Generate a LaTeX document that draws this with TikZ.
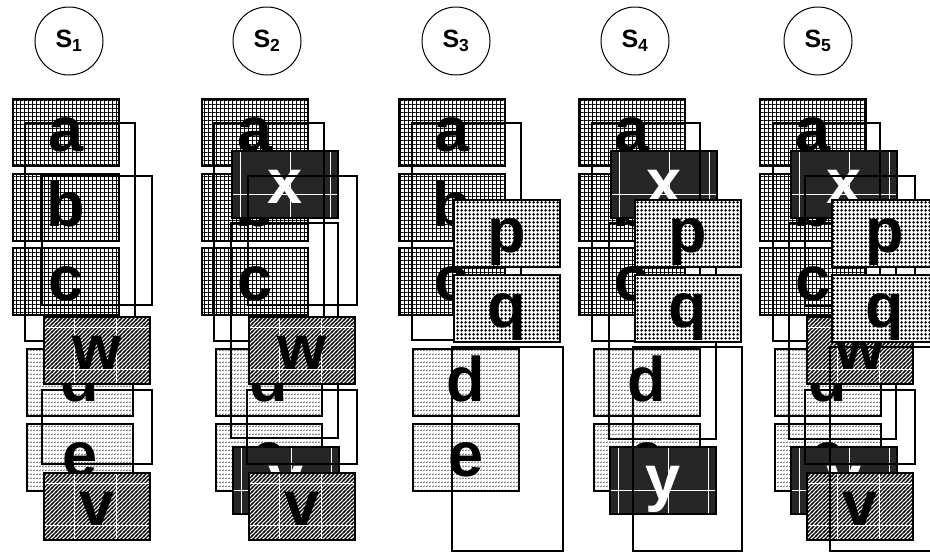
\documentclass[tikz,border=0pt]{standalone}
\usepackage{fontspec}
\setmainfont{Liberation Sans}
\usetikzlibrary{patterns}

\pgfdeclarepatternformonly{gridp}{\pgfqpoint{-0.5pt}{-0.5pt}}{\pgfqpoint{3.5pt}{3.5pt}}{\pgfqpoint{4pt}{4pt}}{%
 \pgfsetlinewidth{0.85pt}%
 \pgfpathmoveto{\pgfqpoint{0pt}{-0.5pt}}\pgfpathlineto{\pgfqpoint{0pt}{3.5pt}}%
 \pgfpathmoveto{\pgfqpoint{-0.5pt}{0pt}}\pgfpathlineto{\pgfqpoint{3.5pt}{0pt}}%
 \pgfusepath{stroke}}
\pgfdeclarepatternformonly{dotsp}{\pgfqpoint{0pt}{0pt}}{\pgfqpoint{4pt}{4pt}}{\pgfqpoint{4pt}{4pt}}{%
 \pgfpathcircle{\pgfqpoint{2pt}{2pt}}{1.75pt}\pgfusepath{fill}}
\pgfdeclarepatternformonly{diagp}{\pgfqpoint{-1pt}{-1pt}}{\pgfqpoint{5pt}{5pt}}{\pgfqpoint{4pt}{4pt}}{%
 \pgfsetlinewidth{1.1pt}%
 \pgfpathmoveto{\pgfqpoint{-1pt}{-1pt}}\pgfpathlineto{\pgfqpoint{5pt}{5pt}}\pgfusepath{stroke}}
\pgfdeclarepatternformonly{rowp}{\pgfqpoint{0pt}{0pt}}{\pgfqpoint{3pt}{4pt}}{\pgfqpoint{3pt}{4pt}}{%
 \pgfsetlinewidth{0.8pt}%
 \pgfpathmoveto{\pgfqpoint{0.3pt}{1.3pt}}\pgfpathlineto{\pgfqpoint{2.4pt}{2.7pt}}\pgfusepath{stroke}}

\tikzset{
 box/.style={draw, line width=2pt, preaction={fill=white}, minimum width=106pt,
   minimum height=67pt, inner sep=0pt, anchor=north west, text height=40pt,
   text depth=3pt, font=\fontsize{63}{63}\selectfont\bfseries},
 gbox/.style={box, pattern=gridp},
 lbox/.style={box, pattern=rowp, pattern color=black!75},
 hbox/.style={box, pattern=diagp, path picture={
   \foreach \u in {30,72}{\draw[white, line width=0.9pt]
     ([xshift=\u pt]path picture bounding box.north west) -- ++(0,-80pt);}
   \foreach \u in {10,52}{\draw[white, line width=0.9pt]
     ([yshift=-\u pt]path picture bounding box.north west) -- ++(120pt,0);}}},
 pbox/.style={box, pattern=dotsp},
 dbox/.style={box, fill=black!85, text=white, path picture={
   \foreach \u in {8,58,98}{\draw[white, line width=0.9pt]
     ([xshift=\u pt]path picture bounding box.north west) -- ++(0,-80pt);}
   \foreach \u in {43}{\draw[white, line width=0.9pt]
     ([yshift=-\u pt]path picture bounding box.north west) -- ++(120pt,0);}}},
 outl/.style={draw, line width=2pt},
 st/.style={circle, draw, line width=1pt, minimum size=68pt, inner sep=0pt,
   font=\fontsize{25}{25}\selectfont\bfseries}
}

\begin{document}
\begin{tikzpicture}[x=1pt, y=-1pt]
\useasboundingbox[fill=white] (0,0) rectangle (930,552);

% state circles
\node[st] (s1) at (69,41) {S\textsubscript{1}};
\node[st] (s2) at (267,41) {S\textsubscript{2}};
\node[st] (s3) at (456,41) {S\textsubscript{3}};
\node[st] (s4) at (635,41) {S\textsubscript{4}};
\node[st] (s5) at (818,41) {S\textsubscript{5}};

% ---------- column 1
\node[gbox] (a1) at (12,98) {a};
\node[gbox] (b1) at (12,173) {b};
\node[gbox] (c1) at (12,247) {c};
\node[lbox] (d1) at (26,348) {d};
\node[lbox] (e1) at (26,423) {e};
\draw[outl] (25,123) rectangle (135,341);
\draw[outl] (42,176) rectangle (152,305);
\draw[outl] (42,390) rectangle (152,464);
\node[hbox] (w1) at (43,316) {w};
\node[hbox] (v1) at (43,472) {v};

% ---------- column 2
\node[gbox] (a2) at (201,98) {a};
\node[gbox] (b2) at (201,173) {b};
\node[gbox] (c2) at (201,247) {c};
\node[lbox] (d2) at (215,348) {d};
\node[lbox] (e2) at (215,423) {e};
\node[dbox] (x2) at (231,150) {x};
\node[dbox] (y2) at (232,446) {y};
\draw[outl] (214,123) rectangle (324,341);
\draw[outl] (248,176) rectangle (357,305);
\draw[outl] (231,223) rectangle (338,438);
\draw[outl] (247,390) rectangle (357,464);
\node[hbox] (w2) at (248,316) {w};
\node[hbox] (v2) at (248,472) {v};

% ---------- column 3
\node[gbox] (a3) at (398,98) {a};
\node[gbox] (b3) at (398,173) {b};
\node[gbox] (c3) at (398,247) {c};
\node[lbox] (d3) at (412,348) {d};
\node[lbox] (e3) at (412,423) {e};
\draw[outl] (412,123) rectangle (521,340);
\node[pbox] (p3) at (453,199) {p};
\node[pbox] (q3) at (453,274) {q};
\draw[outl] (452,347) rectangle (563,551);

% ---------- column 4
\node[gbox] (a4) at (578,98) {a};
\node[gbox] (b4) at (578,173) {b};
\node[gbox] (c4) at (578,247) {c};
\node[lbox] (d4) at (593,348) {d};
\node[lbox] (e4) at (593,423) {e};
\node[dbox] (x4) at (610,150) {x};
\node[dbox] (y4) at (609,446) {y};
\draw[outl] (592,123) rectangle (700,341);
\draw[outl] (609,223) rectangle (716,439);
\node[pbox] (p4) at (634,199) {p};
\node[pbox] (q4) at (634,274) {q};
\draw[outl] (633,347) rectangle (742,551);

% ---------- column 5
\node[gbox] (a5) at (759,98) {a};
\node[gbox] (b5) at (759,173) {b};
\node[gbox] (c5) at (759,247) {c};
\node[lbox] (d5) at (774,348) {d};
\node[lbox] (e5) at (774,423) {e};
\node[dbox] (x5) at (790,150) {x};
\node[dbox] (y5) at (790,446) {y};
\draw[outl] (773,123) rectangle (880,341);
\draw[outl] (805,176) rectangle (915,306);
\draw[outl] (789,223) rectangle (896,439);
\draw[outl] (805,390) rectangle (915,464);
\node[hbox] (w5) at (806,316) {w};
\node[hbox] (v5) at (806,472) {v};
\node[pbox] (p5) at (831,199) {p};
\node[pbox] (q5) at (831,274) {q};
\draw[outl] (830,347) rectangle (941,551);
\end{tikzpicture}
\end{document}
